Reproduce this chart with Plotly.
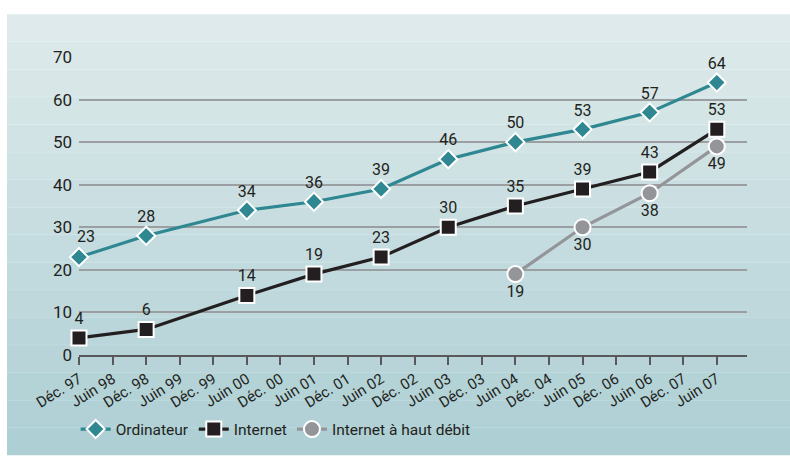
import plotly.graph_objects as go

# Half-year periods along the horizontal axis (labels as printed)
periods = ["Déc. 97", "Juin 98", "Déc. 98", "Juin 99", "Déc. 99", "Juin 00",
           "Déc. 00", "Juin 01", "Déc. 01", "Juin 02", "Déc. 02", "Juin 03",
           "Déc. 03", "Juin 04", "Déc. 04", "Juin 05", "Déc. 06", "Juin 06",
           "Déc. 07", "Juin 07"]

# Survey dates with observations
survey_dates = ["Déc. 97", "Déc. 98", "Juin 00", "Juin 01", "Juin 02",
                "Juin 03", "Juin 04", "Juin 05", "Juin 06", "Juin 07"]
ordinateur = [23, 28, 34, 36, 39, 46, 50, 53, 57, 64]
internet = [4, 6, 14, 19, 23, 30, 35, 39, 43, 53]

broadband_dates = ["Juin 04", "Juin 05", "Juin 06", "Juin 07"]
haut_debit = [19, 30, 38, 49]

y_ticks = [0, 10, 20, 30, 40, 50, 60, 70]

FONT = "Roboto, Liberation Sans, sans-serif"
TEXT = "#231f20"
TEAL = "#2e8791"
BLACK = "#231f20"
GREY = "#939598"

W, H = 790, 459
ML, MR, MT, MB = 79, 43, 57, 102

fig = go.Figure()

# First computer label sits slightly right of its marker, clear of the y labels
ord_text = [""] + [str(v) for v in ordinateur[1:]]

fig.add_trace(go.Scatter(
    x=survey_dates, y=ordinateur, name="Ordinateur",
    mode="lines+markers+text",
    line=dict(color=TEAL, width=3.2),
    marker=dict(symbol="diamond", size=14, color=TEAL,
                line=dict(color="white", width=2)),
    text=ord_text, textposition="top center",
    textfont=dict(family=FONT, size=16, color=TEXT),
    cliponaxis=False,
))
fig.add_trace(go.Scatter(
    x=survey_dates, y=internet, name="Internet",
    mode="lines+markers+text",
    line=dict(color=BLACK, width=3.2),
    marker=dict(symbol="square", size=15, color=BLACK,
                line=dict(color="white", width=2)),
    text=[str(v) for v in internet], textposition="top center",
    textfont=dict(family=FONT, size=16, color=TEXT),
    cliponaxis=False,
))
fig.add_trace(go.Scatter(
    x=broadband_dates, y=haut_debit, name="Internet à haut débit",
    mode="lines+markers+text",
    line=dict(color=GREY, width=3.2),
    marker=dict(symbol="circle", size=16, color=GREY,
                line=dict(color="white", width=2)),
    text=[str(v) for v in haut_debit], textposition="bottom center",
    textfont=dict(family=FONT, size=16, color=TEXT),
    cliponaxis=False,
))

# Vertical gradient backdrop drawn as stacked bands in paper coordinates
pw = W - ML - MR
ph = H - MT - MB
def px_to_paper_x(px):
    return (px - ML) / pw
def px_to_paper_y(py):
    return (H - MB - py) / ph

top_rgb = (222, 234, 235)
bot_rgb = (174, 207, 212)
bg_top, bg_bot, bg_left, bg_right = 14, 458, 7, 790
n_bands = 16
band_h = (bg_bot - bg_top) / n_bands
shapes = []
for i in range(n_bands):
    t = i / (n_bands - 1)
    c = tuple(round(a + (b - a) * t) for a, b in zip(top_rgb, bot_rgb))
    y0 = bg_top + i * band_h
    y1 = y0 + band_h
    shapes.append(dict(
        type="rect", xref="paper", yref="paper", layer="below",
        x0=px_to_paper_x(bg_left), x1=px_to_paper_x(bg_right),
        y0=px_to_paper_y(y1), y1=px_to_paper_y(y0),
        fillcolor="rgb(%d,%d,%d)" % c, line=dict(width=0),
    ))
    if i > 0:
        lc = tuple(min(255, v + 8) for v in c)
        shapes.append(dict(
            type="line", xref="paper", yref="paper", layer="below",
            x0=px_to_paper_x(bg_left), x1=px_to_paper_x(bg_right),
            y0=px_to_paper_y(y0), y1=px_to_paper_y(y0),
            line=dict(color="rgb(%d,%d,%d)" % lc, width=1),
        ))

annotations = [dict(
    x=survey_dates[0], y=ordinateur[0], xref="x", yref="y",
    text=str(ordinateur[0]), showarrow=False,
    xshift=7, yshift=21,
    font=dict(family=FONT, size=16, color=TEXT),
)]

fig.update_layout(
    width=W, height=H,
    margin=dict(l=ML, r=MR, t=MT, b=MB),
    paper_bgcolor="white",
    plot_bgcolor="rgba(0,0,0,0)",
    font=dict(family=FONT, size=15, color=TEXT),
    shapes=shapes,
    annotations=annotations,
    showlegend=True,
    legend=dict(
        orientation="h", x=-0.005, xanchor="left",
        y=px_to_paper_y(432), yanchor="middle",
        font=dict(family=FONT, size=15.5, color=TEXT),
        bgcolor="rgba(0,0,0,0)", itemwidth=30,
        traceorder="normal",
    ),
    xaxis=dict(
        type="category", categoryorder="array", categoryarray=periods,
        range=[0, 19.9], showgrid=False, zeroline=False,
        showline=True, linecolor="#58595b", linewidth=1.5,
        ticks="outside", ticklen=8, tickwidth=1.5, tickcolor="#58595b",
        tickangle=-32, tickfont=dict(family=FONT, size=15, color=TEXT),
        tickmode="array", tickvals=periods, ticktext=periods,
    ),
    yaxis=dict(
        range=[0, 70], tickvals=y_ticks, showgrid=True,
        gridcolor="#9c9fa2", gridwidth=1.5, zeroline=False,
        showline=False, ticks="", ticklabelstandoff=6,
        tickfont=dict(family=FONT, size=17, color=TEXT),
    ),
)

fig.write_html("out.html")
